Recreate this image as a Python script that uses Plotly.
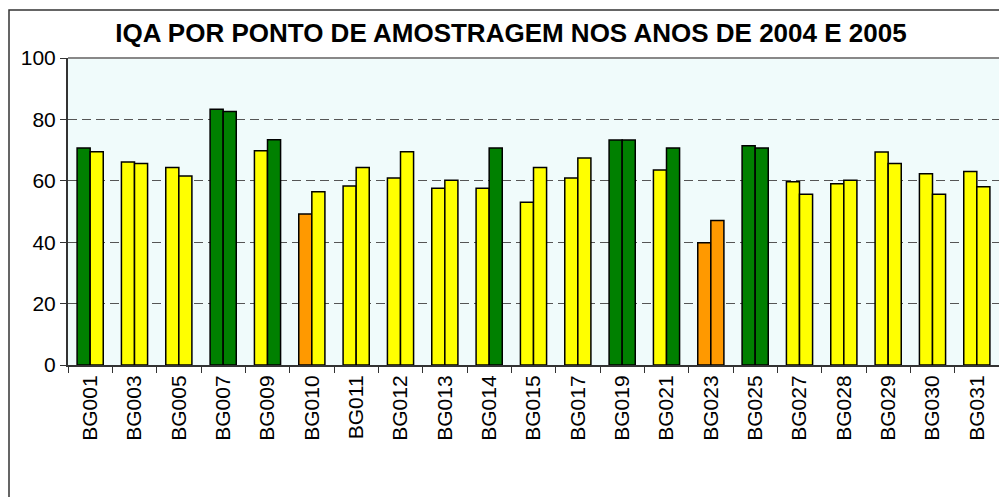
import plotly.graph_objects as go

categories = ["BG001", "BG003", "BG005", "BG007", "BG009", "BG010", "BG011", "BG012",
              "BG013", "BG014", "BG015", "BG017", "BG019", "BG021", "BG023", "BG025",
              "BG027", "BG028", "BG029", "BG030", "BG031"]
iqa_2004 = [70.7, 66.1, 64.3, 83.3, 69.8, 49.2, 58.3, 60.9, 57.6, 57.6, 53.0,
            60.9, 73.3, 63.5, 39.8, 71.4, 59.7, 59.0, 69.4, 62.3, 63.0]
iqa_2005 = [69.5, 65.6, 61.6, 82.6, 73.4, 56.4, 64.3, 69.5, 60.2, 70.7, 64.3,
            67.4, 73.3, 70.7, 47.1, 70.7, 55.6, 60.2, 65.6, 55.6, 58.1]
y_ticks = [0, 20, 40, 60, 80, 100]

GREEN = "#008000"
YELLOW = "#ffff00"
ORANGE = "#ff9900"


def quality_color(v):
    if v >= 70:
        return GREEN
    if v >= 50:
        return YELLOW
    return ORANGE


fig = go.Figure()
for name, vals in (("2004", iqa_2004), ("2005", iqa_2005)):
    fig.add_trace(go.Bar(
        x=categories, y=vals, name=name,
        marker=dict(color=[quality_color(v) for v in vals],
                    line=dict(color="black", width=1.5)),
        showlegend=False,
    ))

W, H = 999, 497
ml, mr, mt, mb = 68, 0, 58, 132
pw, ph = W - ml - mr, H - mt - mb


def px_x(x):
    return (x - ml) / pw


def px_y(y):
    return 1 - (y - mt) / ph


fig.update_layout(
    width=W, height=H,
    margin=dict(l=ml, r=mr, t=mt, b=mb),
    paper_bgcolor="white",
    plot_bgcolor="#f0fbfb",
    barmode="group",
    bargap=0.41,
    bargroupgap=0,
    font=dict(family="Arial, Liberation Sans, sans-serif", color="black"),
    title=dict(text="<b>IQA POR PONTO DE AMOSTRAGEM NOS ANOS DE 2004 E 2005</b>",
               x=511 / W, xanchor="center", y=1 - 33 / H, yanchor="middle",
               font=dict(size=26, color="black")),
    xaxis=dict(
        type="category", tickangle=-90, tickfont=dict(size=21),
        ticks="outside", tickson="boundaries", ticklen=6, tickcolor="#333",
        showline=True, linecolor="#333", linewidth=2, showgrid=False,
        range=[-0.5, len(categories) - 0.5],
    ),
    yaxis=dict(
        range=[0, 100], tickvals=y_ticks, tickfont=dict(size=21),
        ticks="outside", ticklen=6, tickcolor="#333",
        showline=True, linecolor="#333", linewidth=2,
        showgrid=True, gridcolor="#555", griddash="9px,5px", gridwidth=1,
        zeroline=False,
    ),
    shapes=[
        dict(type="line", xref="paper", yref="paper", x0=0, x1=1, y0=1, y1=1,
             line=dict(color="#888", width=2), layer="above"),
        dict(type="rect", xref="paper", yref="paper",
             x0=px_x(9), x1=px_x(1010), y0=px_y(10), y1=px_y(510),
             line=dict(color="#333", width=1.5), layer="above"),
    ],
)

fig.write_html("out.html", config={"displayModeBar": False},
               post_script="document.body.style.margin='0';")
